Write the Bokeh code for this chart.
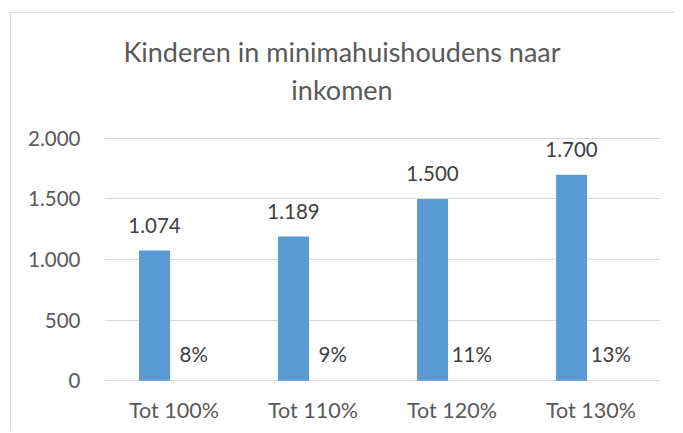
from bokeh.plotting import figure
from bokeh.models import (FactorRange, Range1d, FixedTicker, CustomJSTickFormatter,
                          ColumnDataSource, Label)
from bokeh.transform import dodge
from bokeh.core.properties import value
from bokeh.embed import file_html
from bokeh.resources import INLINE

# ---- data ----
categories = ["Tot 100%", "Tot 110%", "Tot 120%", "Tot 130%"]
children = [1074, 1189, 1500, 1700]
share_pct = [8, 9, 11, 13]
y_ticks = [0, 500, 1000, 1500, 2000]
title_lines = ["Kinderen in minimahuishoudens naar", "inkomen"]


def nl(n):
    return f"{n:,}".replace(",", ".")


src = ColumnDataSource(dict(
    cat=categories,
    val=children,
    lbl=[nl(v) for v in children],
    pct=[v / 100 for v in share_pct],
    pct_lbl=[f"{v}%" for v in share_pct],
))

FONT = "Lato"
BAR = "#5B9BD5"
GRID = "#D9D9D9"
AXTXT = "#595959"
LBLTXT = "#404040"

# layout (canvas pixels)
W, H = 664, 418
ML, MR, MB = 93, 15, 49
FRAME_H = H - MB               # frame spans from canvas top to MB above bottom
Y0 = -15
PX_PER_UNIT = 0.12118
Y1 = Y0 + FRAME_H / PX_PER_UNIT


def y_at(canvas_px):
    """data y for a canvas pixel row"""
    return Y0 + (FRAME_H - canvas_px) / PX_PER_UNIT


p = figure(x_range=FactorRange(*categories), y_range=Range1d(Y0, Y1),
           width=W, height=H, output_backend="svg", toolbar_location=None,
           min_border_left=ML, min_border_right=MR, min_border_top=0,
           min_border_bottom=MB)
p.margin = (12, 0, 0, 10)
p.styles = {"border-left": "1px solid #D9D9D9", "border-top": "1px solid #D9D9D9"}
p.outline_line_color = None
p.background_fill_color = "white"
p.border_fill_color = "white"

p.vbar(x=dodge("cat", -0.14, range=p.x_range), top="val", width=0.223,
       source=src, fill_color=BAR, line_color=None)

p.text(x=dodge("cat", -0.14, range=p.x_range), y="val", text="lbl", source=src,
       text_align="center", text_baseline="alphabetic", y_offset=-25.5,
       text_font=value(FONT), text_font_size="20.5px", text_color=LBLTXT)
p.text(x=dodge("cat", 0.142, range=p.x_range), y="pct", text="pct_lbl", source=src,
       text_align="center", text_baseline="alphabetic", y_offset=-26.5,
       text_font=value(FONT), text_font_size="20.5px", text_color=LBLTXT)

# axes
p.yaxis.ticker = FixedTicker(ticks=y_ticks)
p.yaxis.formatter = CustomJSTickFormatter(
    code="return tick.toString().replace(/\\B(?=(\\d{3})+(?!\\d))/g, '.');")
for ax in (p.xaxis[0], p.yaxis[0]):
    ax.axis_line_color = None
    ax.major_tick_line_color = None
    ax.minor_tick_line_color = None
    ax.major_label_text_font = FONT
    ax.major_label_text_color = AXTXT
p.yaxis.major_label_text_font_size = "20.5px"
p.xaxis.major_label_text_font_size = "21.5px"
p.yaxis.major_label_standoff = 18
p.xaxis.major_label_standoff = 8
p.xgrid.visible = False
p.ygrid.grid_line_color = GRID
p.ygrid.grid_line_width = 1

# title (two centred lines)
title_x = 237.5 / 139.0          # in category units from the left of the frame
for t, row in zip(title_lines, [37.5, 75.8]):
    p.add_layout(Label(x=title_x, y=y_at(row), text=t,
                       text_align="center", text_baseline="alphabetic",
                       text_font=FONT, text_font_size="27px", text_color=AXTXT))

open("out.html", "w").write(file_html(p, INLINE))
